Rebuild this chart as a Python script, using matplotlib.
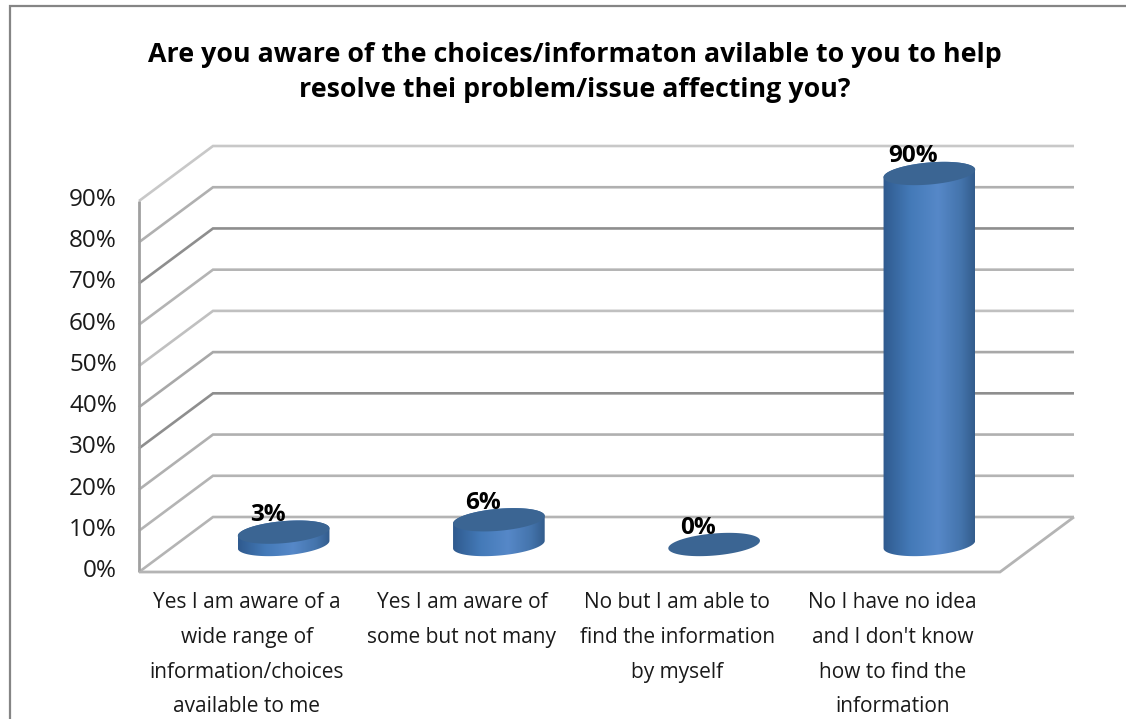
import numpy as np
import matplotlib
matplotlib.use("Agg")
import matplotlib.pyplot as plt
from matplotlib.path import Path
from matplotlib.patches import PathPatch, Rectangle
from matplotlib.colors import LinearSegmentedColormap

title = "Are you aware of the choices/informaton avilable to you to help\nresolve thei problem/issue affecting you?"
categories = ["Yes I am aware of a\nwide range of\ninformation/choices\navailable to me",
              "Yes I am aware of\nsome but not many",
              "No but I am able to\nfind the information\nby myself",
              "No I have no idea\nand I don't know\nhow to find the\ninformation"]
values = [3, 6, 0, 90]
ticks = [0, 10, 20, 30, 40, 50, 60, 70, 80, 90]
grid_colors = ["#b4b4b4", "#b4b4b4", "#b0b0b0", "#8e8e8e", "#a8a8a8", "#c0c0c0", "#b4b4b4", "#8e8e8e", "#b0b0b0", "#c8c8c8"]

W, H = 1126, 719
FONT = "Open Sans"
fig = plt.figure(figsize=(W / 100, H / 100), dpi=100, facecolor="white")
fig.add_artist(Rectangle((10 / W, -0.01), 1.1, 1 - 6 / H + 0.01, transform=fig.transFigure,
                         fill=False, ec="#858585", lw=1.6))

# front plane of the 3-D box, pixels
L, R, B, T = 139, 1000, 572, 201
ax = fig.add_axes([L / W, 1 - B / H, (R - L) / W, (B - T) / H])
ax.set_xlim(0, 4)
ax.set_ylim(0, 90)
ax.axis("off")
ppx = (R - L) / 4
ppy = (B - T) / 90
DX, DY = 74 / ppx, 55 / ppy


def line(xs, ys, c="#b4b4b4", lw=1.9):
    ax.plot(xs, ys, color=c, lw=lw, clip_on=False, solid_capstyle="butt", solid_joinstyle="miter", zorder=1)


for v, c in zip(ticks, grid_colors):
    line([0, DX, 4 + DX], [v, v + DY, v + DY], c)
line([0, 0], [0, 90], "#a0a0a0", 2)
line([0, 4, 4 + DX], [0, 0, DY], "#b4b4b4", 2)

for v in ticks:
    ax.annotate(f"{v}%", (0, v), xytext=(-22, 1), textcoords="offset pixels", ha="right", va="center",
                fontsize=17.5, family=FONT, color="#1a1a1a", annotation_clip=False)

cmap = LinearSegmentedColormap.from_list("cyl", [(0, "#2f5a8e"), (0.3, "#447ab8"), (0.6, "#5688c8"),
                                                 (0.85, "#4474ac"), (1, "#335c8c")])
A, TILT = 46 / ppx, np.radians(5)


def ellipse(cx, cy, t):
    px = 46 * np.cos(t) * np.cos(TILT) + 11 * np.sin(t) * np.sin(TILT)
    py = 46 * np.cos(t) * np.sin(TILT) - 11 * np.sin(t) * np.cos(TILT)
    return cx + px / ppx, cy + py / ppy


for i, v in enumerate(values):
    cx = i + 0.5 + DX / 2
    base = DY / 2
    t = np.linspace(0, 2 * np.pi, 90)
    if v > 0:
        tt = np.linspace(np.pi, 0, 60)
        bx, by = ellipse(cx, base, tt)
        tx, ty = ellipse(cx, base + v, -tt[::-1])
        path = Path(np.column_stack([np.r_[bx, tx], np.r_[by, ty]]))
        patch = PathPatch(path, transform=ax.transData, fc="none", ec="none")
        ax.add_patch(patch)
        im = ax.imshow(np.linspace(0, 1, 256)[None, :], cmap=cmap, aspect="auto", zorder=3,
                       extent=[cx - A, cx + A, by.min() - 1, base + v + 4])
        im.set_clip_box(fig.bbox)
        im.set_clip_path(patch)
    ex, ey = ellipse(cx, base + v, t)
    ax.fill(ex, ey, color="#3b6593", zorder=4, clip_on=False, lw=0)
    ax.annotate(f"{v}%", (cx, base + v), xytext=(-16, 17), textcoords="offset pixels", ha="center", va="center",
                fontsize=17.5, fontweight="bold", family=FONT, color="black", zorder=5, annotation_clip=False)
    ax.text(i + 0.5, -20 / ppy, categories[i], ha="center", va="top", fontsize=15,
            family=FONT, color="#1a1a1a", linespacing=1.86, clip_on=False)

ax.set_xlim(0, 4)
ax.set_ylim(0, 90)

fig.text(575 / W, 1 - 72.5 / H, title, ha="center", va="center", fontsize=19.3, fontweight="bold", family=FONT,
         color="black", linespacing=1.45)

fig.savefig("out.png", dpi=100)
